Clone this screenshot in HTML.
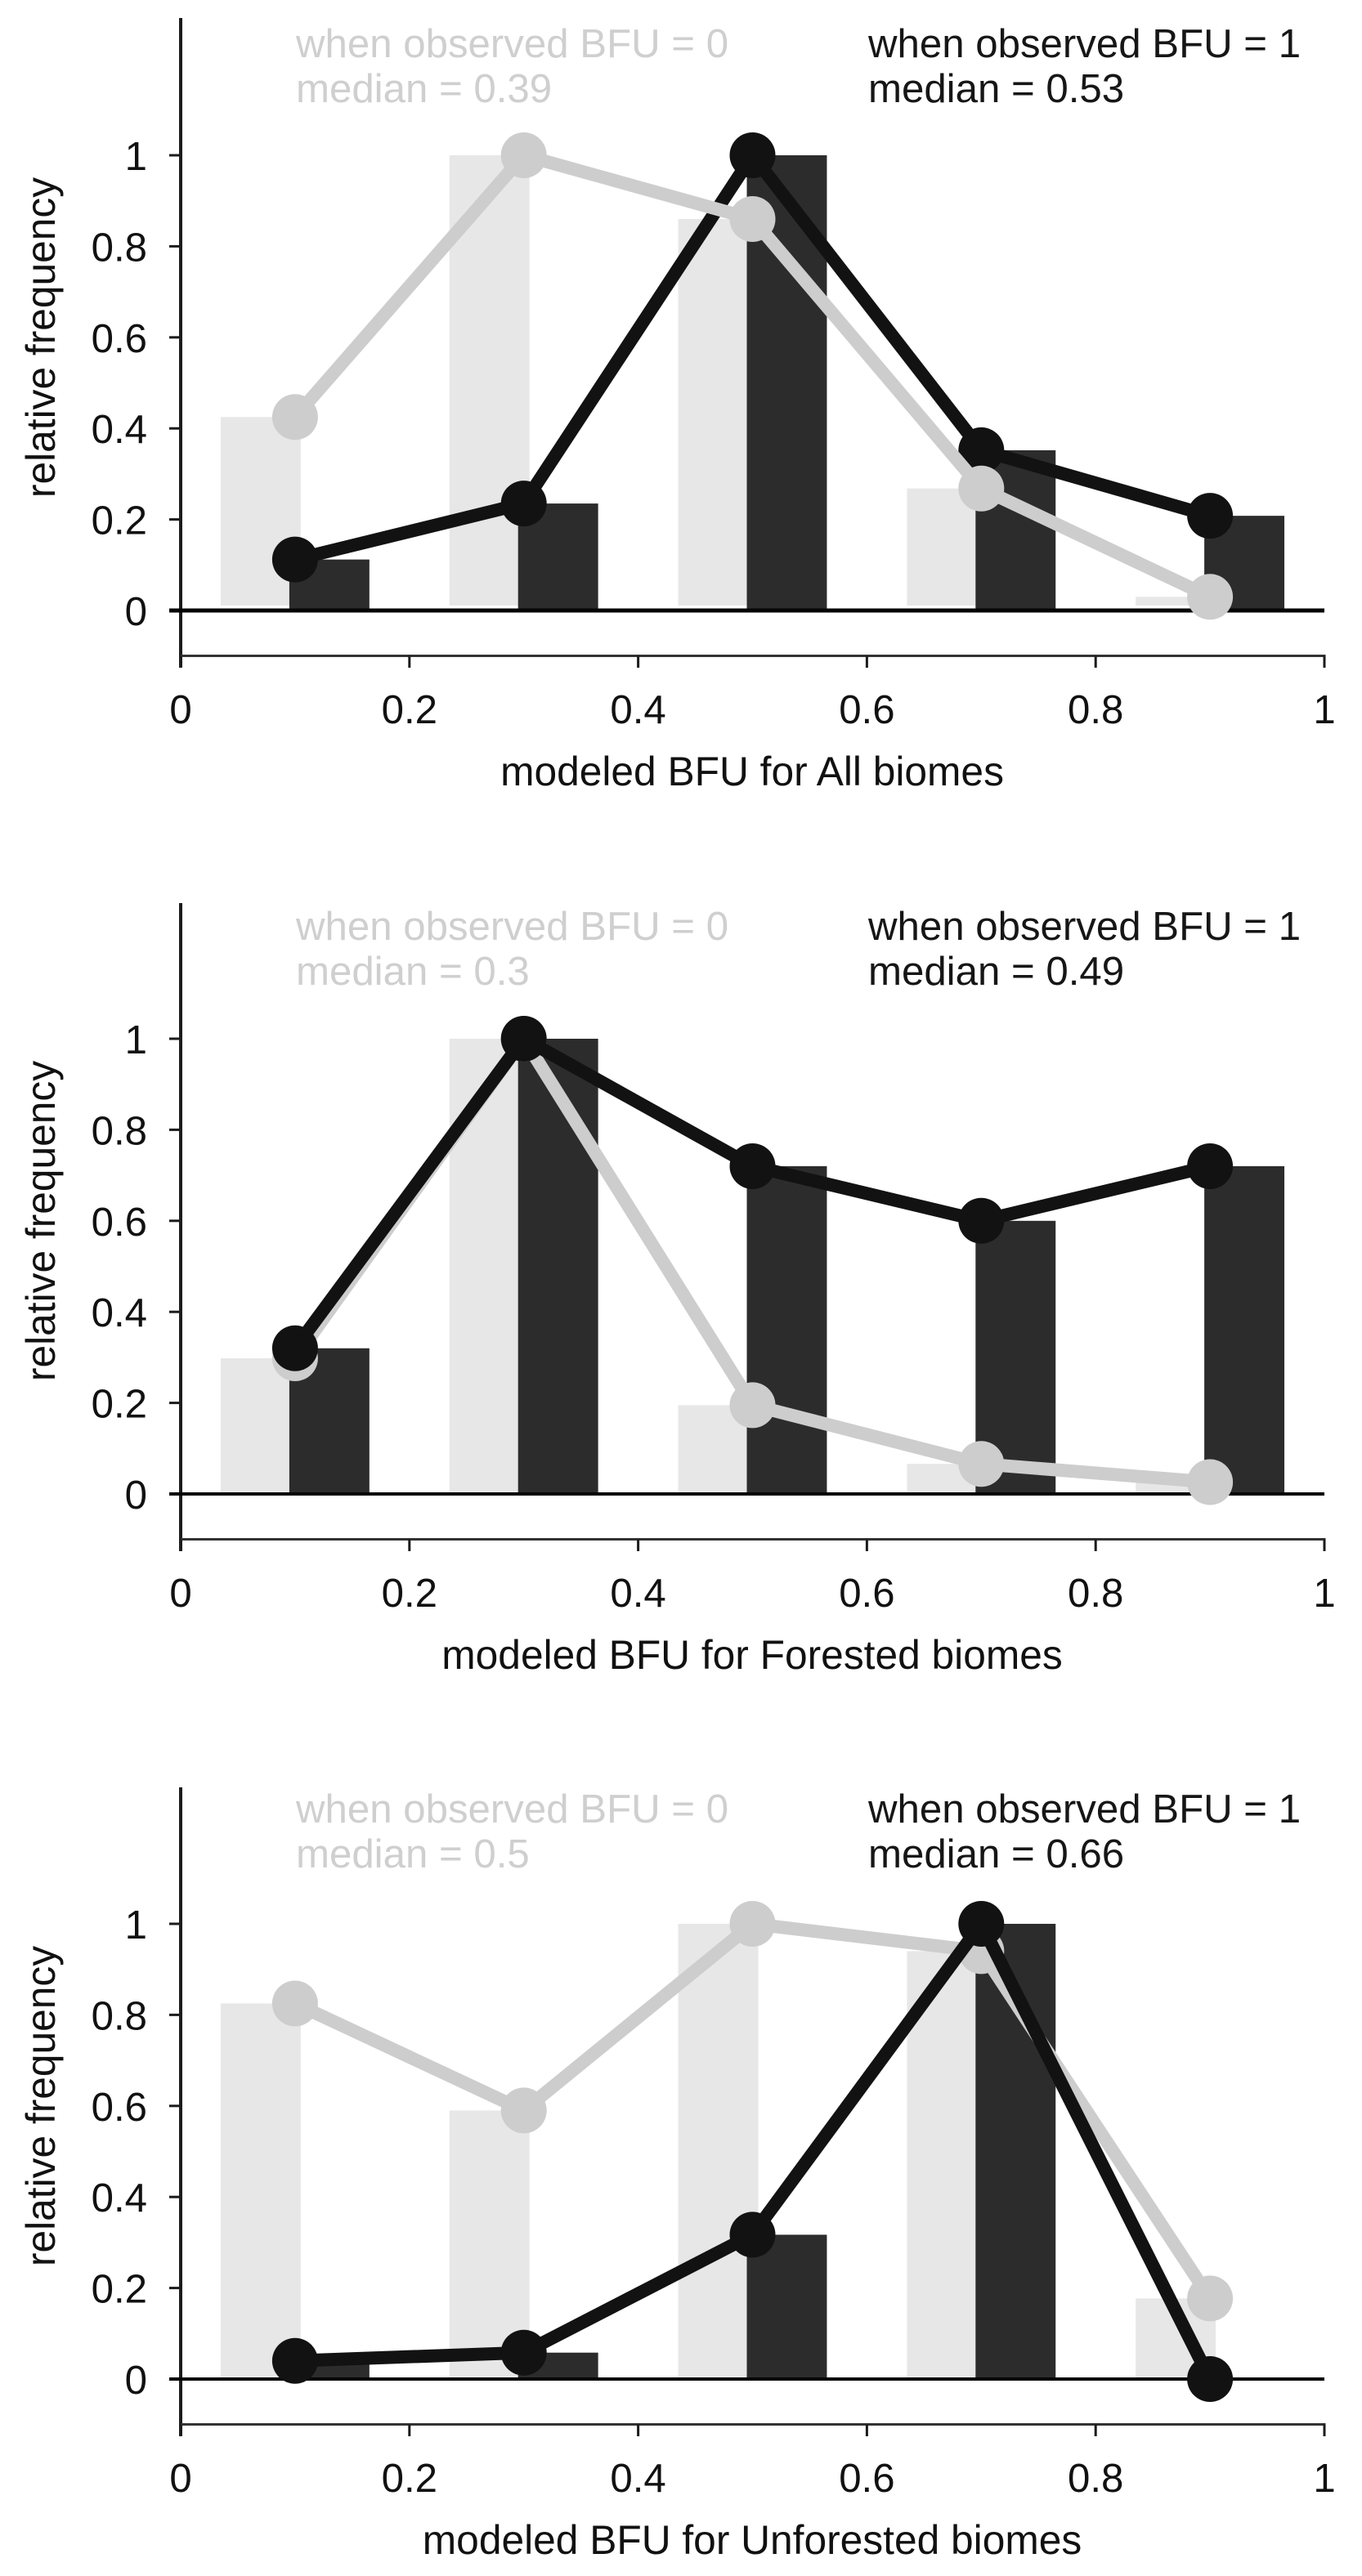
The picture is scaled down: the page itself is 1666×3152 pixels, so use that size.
<!DOCTYPE html>
<html lang="en">
<head>
<meta charset="utf-8">
<title>Modeled BFU relative frequency by biome</title>
<style>
  html, body { margin: 0; padding: 0; background: #fff; }
  body { width: 1666px; height: 3152px; overflow: hidden; }
  svg { display: block; }
  text { font-family: "Liberation Sans", sans-serif; font-size: 49.2px; }
  text.axis-title { font-size: 49.7px; }
</style>
</head>
<body>
<svg id="chart" xmlns="http://www.w3.org/2000/svg" width="1666" height="3152" viewBox="0 0 1666 3152"></svg>
<script>
// ---- Data ----
const binCenters = [0.1, 0.3, 0.5, 0.7, 0.9];
const xTicks = [0, 0.2, 0.4, 0.6, 0.8, 1];
const yTicks = [0, 0.2, 0.4, 0.6, 0.8, 1];

const allObserved0 = [0.425, 1, 0.86, 0.268, 0.03];
const allObserved1 = [0.112, 0.235, 1, 0.352, 0.208];
const forestedObserved0 = [0.298, 1, 0.195, 0.066, 0.026];
const forestedObserved1 = [0.32, 1, 0.72, 0.6, 0.72];
const unforestedObserved0 = [0.825, 0.59, 1, 0.94, 0.177];
const unforestedObserved1 = [0.04, 0.058, 0.317, 1, 0];

const panelNames = ["All", "Forested", "Unforested"];
const median0Labels = ["0.39", "0.3", "0.5"];
const median1Labels = ["0.53", "0.49", "0.66"];

// ---- Layout ----
const xLeft = 221, xSpan = 1399, ySpan = 557;
const panelZeroY = [747, 1828, 2911];
const panelTopY = [22, 1105, 2187];
const panelLabelY = [70, 1150, 2230];
const grayBarGap = [6, 2, 2];
const grayOnTop = [true, false, false];
const barOffset = 0.03, barWidth = 0.07;

const GRAY_BAR = "#e7e7e7", DARK_BAR = "#2c2c2c";
const GRAY_MARK = "#cdcdcd", DARK_MARK = "#121212";
const AXIS = "#1c1c1c";

const NS = "http://www.w3.org/2000/svg";
const chart = document.getElementById("chart");

function make(parent, tag, attrs, content) {
  const el = document.createElementNS(NS, tag);
  for (const k in attrs) el.setAttribute(k, attrs[k]);
  if (content !== undefined) el.textContent = content;
  parent.appendChild(el);
  return el;
}

function x(v) { return xLeft + v * xSpan; }

function drawSeries(g, values, yFn, color, key) {
  const pts = values.map(function (v, i) { return x(binCenters[i]) + "," + yFn(v); }).join(" ");
  const line = make(g, "polyline", { points: pts, fill: "none", stroke: color, "stroke-width": 16, "stroke-linejoin": "round" });
  
  
  values.forEach(function (v, i) {
    const c = make(g, "circle", { cx: x(binCenters[i]), cy: yFn(v), r: 28, fill: color });
    
    
  });
}

function drawPanel(idx, gray, dark) {
  const zero = panelZeroY[idx];
  const y = function (v) { return zero - v * ySpan; };
  const bottom = zero + 55.5;
  const tickEnd = zero + 70;

  const g = make(chart, "g", {});
  
  

  // Bars: light series first, dark series over it
  gray.forEach(function (v, i) {
    const left = x(binCenters[i] - barOffset - barWidth / 2);
    const h = Math.max(0, v * ySpan - grayBarGap[idx]);
    const r = make(g, "rect", { x: left, y: y(v), width: barWidth * xSpan, height: h, fill: GRAY_BAR });
    
    
  });
  dark.forEach(function (v, i) {
    const left = x(binCenters[i] + barOffset - barWidth / 2);
    const r = make(g, "rect", { x: left, y: y(v), width: barWidth * xSpan, height: v * ySpan, fill: DARK_BAR });
    
    
  });

  // Y axis
  const yAxis = make(g, "line", { x1: xLeft, x2: xLeft, y1: panelTopY[idx], y2: tickEnd, stroke: AXIS, "stroke-width": 4 });
  
  
  yTicks.forEach(function (t) {
    const tick = make(g, "line", { x1: 207, x2: xLeft, y1: y(t), y2: y(t), stroke: AXIS, "stroke-width": 3 });
    
    
    const lab = make(g, "text", { x: 180, y: y(t) + 18, "text-anchor": "end", fill: "#111" }, String(t));
    
    
  });

  // Zero baseline
  const zeroLine = make(g, "line", { x1: 207, x2: x(1), y1: zero, y2: zero, stroke: "#050505", "stroke-width": idx === 0 ? 5 : 4 });
  
  

  // X axis
  const xAxis = make(g, "line", { x1: xLeft, x2: x(1) + 1.5, y1: bottom, y2: bottom, stroke: "#333", "stroke-width": 3 });
  
  
  xTicks.forEach(function (t) {
    const tick = make(g, "line", { x1: x(t), x2: x(t), y1: bottom, y2: tickEnd, stroke: AXIS, "stroke-width": 3 });
    
    
    const lab = make(g, "text", { x: x(t), y: zero + 138, "text-anchor": "middle", fill: "#111" }, String(t));
    
    
  });

  // Series
  if (grayOnTop[idx]) {
    drawSeries(g, dark, y, DARK_MARK, 'observed-1');
    drawSeries(g, gray, y, GRAY_MARK, 'observed-0');
  } else {
    drawSeries(g, gray, y, GRAY_MARK, 'observed-0');
    drawSeries(g, dark, y, DARK_MARK, 'observed-1');
  }

  // Annotations
  const base = panelLabelY[idx];
  const a0 = make(g, "text", { x: 362, y: base, fill: "#cfcfcf" }, "when observed BFU = 0");
  
  
  const m0 = make(g, "text", { x: 362, y: base + 55, fill: "#cfcfcf" }, "median = " + median0Labels[idx]);
  
  
  const a1 = make(g, "text", { x: 1062, y: base, fill: "#161616" }, "when observed BFU = 1");
  
  
  const m1 = make(g, "text", { x: 1062, y: base + 55, fill: "#161616" }, "median = " + median1Labels[idx]);
  
  

  // Axis titles
  const xt = make(g, "text", { class: "axis-title", x: 920, y: zero + 214, "text-anchor": "middle", fill: "#111" }, "modeled BFU for " + panelNames[idx] + " biomes");
  
  
  const cy = zero - 334;
  const yt = make(g, "text", { class: "axis-title", x: 0, y: 0, "text-anchor": "middle", fill: "#111", transform: "translate(67 " + cy + ") rotate(-90)" }, "relative frequency");
  
  
}

drawPanel(0, allObserved0, allObserved1);
drawPanel(1, forestedObserved0, forestedObserved1);
drawPanel(2, unforestedObserved0, unforestedObserved1);
</script>
</body>
</html>
